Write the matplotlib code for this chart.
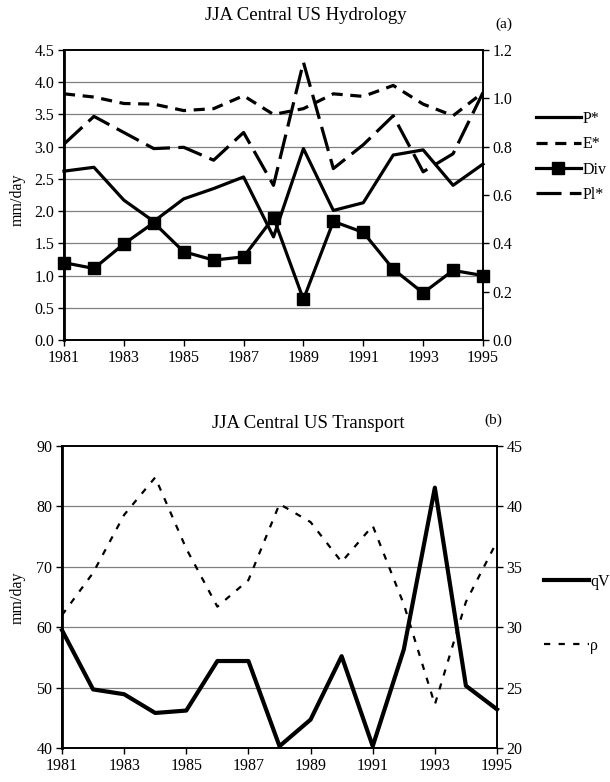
import numpy as np
import matplotlib
matplotlib.use("Agg")
import matplotlib.pyplot as plt

plt.rcParams['font.family'] = ['Liberation Serif', 'DejaVu Serif']
plt.rcParams['lines.scale_dashes'] = False

years = np.arange(1981, 1996)

# (a) hydrology, mm/day
p_star = [2.62, 2.68, 2.17, 1.84, 2.19, 2.35, 2.53, 1.60, 2.97, 2.01, 2.13, 2.87, 2.95, 2.40, 2.73]
e_star = [3.82, 3.77, 3.67, 3.66, 3.56, 3.59, 3.79, 3.50, 3.59, 3.82, 3.78, 3.95, 3.66, 3.48, 3.84]
div = [1.20, 1.11, 1.49, 1.82, 1.37, 1.24, 1.29, 1.90, 0.63, 1.84, 1.67, 1.10, 0.73, 1.08, 1.00]
pl_star = [3.04, 3.47, 3.22, 2.97, 2.99, 2.79, 3.22, 2.40, 4.31, 2.66, 3.03, 3.48, 2.61, 2.89, 3.84]

# (b) transport
qv = [59.5, 49.7, 48.9, 45.8, 46.2, 54.4, 54.4, 40.3, 44.7, 55.2, 40.3, 56.3, 83.1, 50.3, 46.4]
rho = [31.0, 34.5, 39.3, 42.4, 36.5, 31.7, 33.9, 40.2, 38.7, 35.4, 38.4, 31.9, 23.6, 32.1, 37.1]

W, H = 610, 782
fig = plt.figure(figsize=(W / 100, H / 100), dpi=100)


def box(l, t, r, b):
    return [l / W, 1 - b / H, (r - l) / W, (b - t) / H]


def style(ax, ax2, yl, yl2, yt, yt2, fmt, fmt2):
    ax.set_xlim(1981, 1995)
    ax.set_ylim(*yl)
    ax2.set_ylim(*yl2)
    ax.set_xticks(np.arange(1981, 1996, 2))
    ax.set_yticks(yt)
    ax2.set_yticks(yt2)
    ax.set_yticklabels([fmt % v for v in yt])
    ax2.set_yticklabels([fmt2 % v for v in yt2])
    for a in (ax, ax2):
        a.tick_params(direction='out', length=4, width=1, labelsize=11.5, pad=3)
        for s in a.spines.values():
            s.set_linewidth(1.2)
    ax.spines['left'].set_linewidth(2.0)
    for v in yt[1:-1]:
        ax.axhline(v, color='#808080', lw=0.9, zorder=0)


ax = fig.add_axes(box(64, 50, 483, 340))
ax2 = ax.twinx()
ax.plot(years, p_star, color='black', lw=2.3, label='P*', clip_on=False)
ax.plot(years, e_star, color='black', lw=2.3, dashes=(8, 5.5), label='E*')
ax.plot(years, div, color='black', lw=2.3, marker='s', ms=8, label='Div', clip_on=False)
ax.plot(years, pl_star, color='black', lw=2.3, dashes=(18, 6), label='Pl*')
style(ax, ax2, (0, 4.5), (0, 1.2), np.arange(0, 4.51, 0.5), np.arange(0, 1.21, 0.2), '%.1f', '%.1f')
fig.text(18 / W, 1 - 200 / H, 'mm/day', rotation=90, ha='center', va='center', fontsize=11.5)
fig.text(306 / W, 1 - 15 / H, 'JJA Central US Hydrology', ha='center', va='center', fontsize=13.5)
fig.text(504 / W, 1 - 24 / H, '(a)', ha='center', va='center', fontsize=11)
ax.legend(loc='upper left', bbox_to_anchor=(536 / W, 1 - 111 / H), bbox_transform=fig.transFigure,
          frameon=False, fontsize=11.5, handlelength=2.8, handletextpad=0.1,
          labelspacing=0.58, borderpad=0, borderaxespad=0)

bx = fig.add_axes(box(62, 446, 497, 748))
bx2 = bx.twinx()
bx.plot(years, qv, color='black', lw=3.0, label='qV', clip_on=False)
bx2.plot(years, rho, color='black', lw=1.6, dashes=(4.5, 6), label='\u03c1')
style(bx, bx2, (40, 90), (20, 45), np.arange(40, 91, 10), np.arange(20, 46, 5), '%d', '%d')
fig.text(18 / W, 1 - 598 / H, 'mm/day', rotation=90, ha='center', va='center', fontsize=11.5)
fig.text(308 / W, 1 - 423 / H, 'JJA Central US Transport', ha='center', va='center', fontsize=13.5)
fig.text(493 / W, 1 - 420 / H, '(b)', ha='center', va='center', fontsize=11)
h1, l1 = bx.get_legend_handles_labels()
h2, l2 = bx2.get_legend_handles_labels()
bx.legend(h1 + h2, l1 + l2, loc='upper left', bbox_to_anchor=(544 / W, 1 - 574 / H),
          bbox_transform=fig.transFigure, frameon=False, fontsize=11.5, handlelength=2.8,
          handletextpad=0.1, labelspacing=3.0, borderpad=0, borderaxespad=0)

fig.savefig('out.png', dpi=100)
